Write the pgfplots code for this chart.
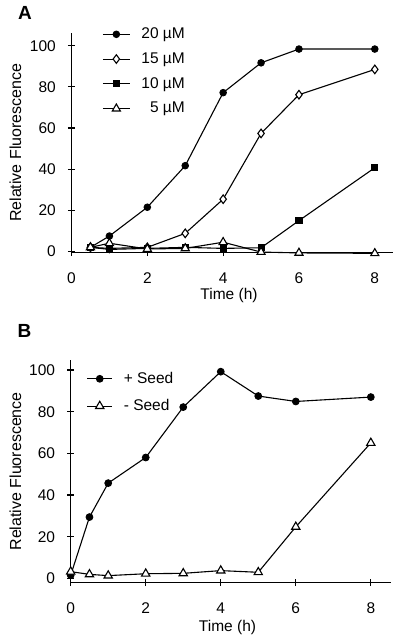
\documentclass[border=0pt]{standalone}
\usepackage{fontspec}
\setmainfont{Liberation Sans}
\usepackage{pgfplots}
\pgfplotsset{compat=1.18}
\pgfplotsset{
  panel/.style={
    scale only axis,
    axis x line*=bottom, axis y line*=left,
    axis line style={-, line width=1.2pt},
    xmin=0,
    xtick={0,2,4,6,8}, ytick={0,20,40,60,80,100},
    tick align=center, major tick length=7pt,
    every tick/.style={black, line width=1.1pt},
    /pgf/number format/assume math mode=true,
    xticklabel style={anchor=center, inner sep=0pt, yshift=-21.5pt},
    yticklabel style={anchor=east, inner sep=0pt, xshift=-12pt},
    xlabel={Time (h)}, ylabel={Relative Fluorescence},
    every axis plot/.append style={black, line width=1.1pt, mark options={solid, line width=0.9pt}},
    clip=false,
    legend cell align=left,
    legend image code/.code={\draw[mark repeat=2, mark phase=2] plot coordinates {(0pt,0pt) (13.5pt,0pt) (27pt,0pt)};},
    legend style={draw=none, fill=none, inner sep=0pt, outer sep=0pt, anchor=north west,
      nodes={inner sep=0pt}, column sep=11pt},
  },
  m20/.style={mark=*, mark size=3.3pt},
  m15/.style={mark=diamond*, mark size=4.3pt, mark options={fill=white}},
  m10/.style={mark=square*, mark size=3.1pt},
  m5/.style={mark=triangle*, mark size=4.7pt, mark options={fill=white}},
}
\begin{document}
\fontsize{15.5}{18}\selectfont
\begin{tikzpicture}
\useasboundingbox (-71.5pt,-390.3pt) rectangle (328.5pt,252.7pt);
\begin{axis}[panel,
  width=321.5pt, height=219.7pt,
  at={(0pt,0pt)}, anchor=south west,
  xmax=8.48, ymin=-0.6, ymax=106.2,
  every axis y label/.style={at={(axis description cs:-0.1742,0.5)}, rotate=90, anchor=center, font=\fontsize{16}{19}\selectfont},
  every axis x label/.style={at={(axis description cs:0.49,-0.1934)}, anchor=center},
  legend style={at={(0.0958,1.024)}, row sep=11.7pt},
]
\addplot[m20] coordinates {(0.5,2) (1,7.5) (2,21.5) (3,41.7) (4,77.2) (5,91.7) (6,98.4) (8,98.4)};
\addlegendentry{20 µM}
\addplot[m15] coordinates {(0.5,2) (1,1.5) (2,2) (3,8.8) (4,25.4) (5,57.4) (6,76.2) (8,88.5)};
\addlegendentry{15 µM}
\addplot[m10] coordinates {(0.5,2) (1,1) (2,1.5) (3,2) (4,1.5) (5,1.8) (6,15) (8,40.7)};
\addlegendentry{10 µM}
\addplot[m5] coordinates {(0.5,2) (1,4) (2,1.2) (3,1.5) (4,4.5) (5,-0.3) (6,-0.7) (8,-0.9)};
\addlegendentry{\phantom{2}5 µM}
\end{axis}
\node[font=\fontsize{19}{22}\selectfont\bfseries] at (-46.5pt,240.2pt) {A};
\begin{axis}[panel,
  width=320pt, height=222.7pt,
  at={(-0.8pt,-330pt)}, anchor=south west,
  xmax=8.53, ymin=-2.1, ymax=104.8,
  every axis y label/.style={at={(axis description cs:-0.1725,0.5)}, rotate=90, anchor=center, font=\fontsize{16}{19}\selectfont},
  every axis x label/.style={at={(axis description cs:0.49,-0.202)}, anchor=center},
  legend style={at={(0.05,0.946)}, row sep=13.7pt},
  legend image code/.code={\draw[mark repeat=2, mark phase=2] plot coordinates {(0pt,0pt) (12.5pt,0pt) (25pt,0pt)};},
]
\addplot[m20, mark size=3.4pt] coordinates {(0,1.5) (0.5,29.4) (1,45.7) (2,58) (3,82.2) (4,99.2) (5,87.5) (6,84.9) (8,87)};
\addlegendentry{+ Seed}
\addplot[m5, mark size=4.8pt] coordinates {(0,3.2) (0.5,1.9) (1,1.3) (2,2.2) (3,2.4) (4,3.7) (5,2.9) (6,24.7) (8,65)};
\addlegendentry{- Seed}
\end{axis}
\node[font=\fontsize{19}{22}\selectfont\bfseries] at (-47pt,-78.3pt) {B};
\end{tikzpicture}
\end{document}
